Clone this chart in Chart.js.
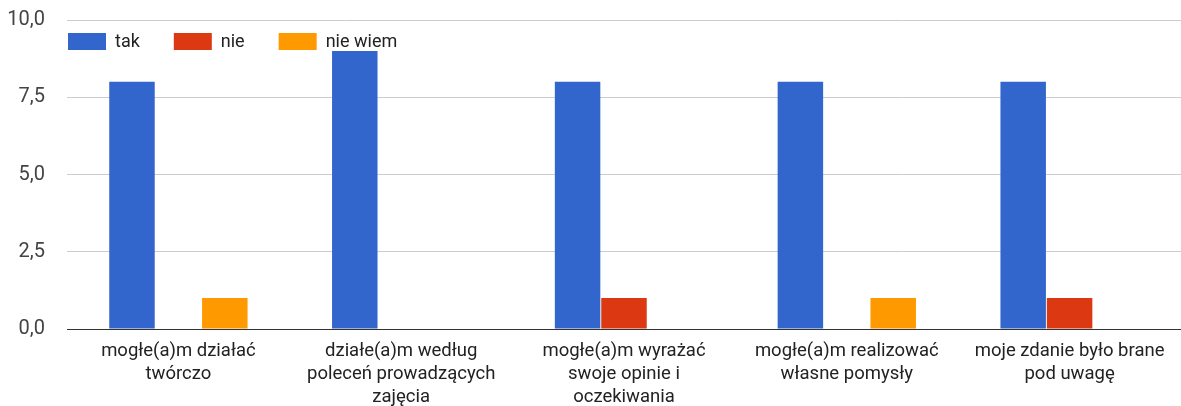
<!DOCTYPE html>
<html>
<head>
<meta charset="utf-8">
<script src="https://cdn.jsdelivr.net/npm/chart.js@4"></script>
<style>
  body { margin: 0; background: #fff; }
</style>
</head>
<body>
<canvas id="myChart" width="1181" height="406"></canvas>
<script>
let categories = [
    ["mogłe(a)m działać", "twórczo"],
    ["działe(a)m według", "poleceń prowadzących", "zajęcia"],
    ["mogłe(a)m wyrażać", "swoje opinie i", "oczekiwania"],
    ["mogłe(a)m realizować", "własne pomysły"],
    ["moje zdanie było brane", "pod uwagę"]
];
let takValues = [8, 9, 8, 8, 8];
let nieValues = [0, 0, 1, 0, 1];
let nieWiemValues = [1, 0, 0, 1, 0];
let yTicks = [0, 2.5, 5, 7.5, 10];

let fontFamily = "Roboto, 'Liberation Sans', Arial, sans-serif";
Chart.defaults.font.family = fontFamily;

// legend drawn inside the plot area, in one row at the top
let innerLegend = {
    id: 'innerLegend',
    afterDatasetsDraw(chart) {
        let c = chart.ctx;
        let x = chart.chartArea.left + 1;
        let y = chart.chartArea.top + 13;
        c.save();
        c.font = '18px ' + fontFamily;
        c.textBaseline = 'middle';
        chart.data.datasets.forEach(ds => {
            c.fillStyle = ds.backgroundColor;
            c.fillRect(x, y, 38, 17);
            c.fillStyle = '#222';
            c.fillText(ds.label, x + 47, y + 9);
            x += 47 + c.measureText(ds.label).width + 34;
        });
        c.restore();
    }
};

let ctx = document.getElementById('myChart').getContext('2d');
let myChart = new Chart(ctx, {
    type: 'bar',
    data: {
        labels: categories,
        datasets: [{
            label: 'tak',
            data: takValues,
            backgroundColor: '#3366cc'
        }, {
            label: 'nie',
            data: nieValues,
            backgroundColor: '#dc3912'
        }, {
            label: 'nie wiem',
            data: nieWiemValues,
            backgroundColor: '#ff9900'
        }]
    },
    options: {
        responsive: false,
        animation: false,
        layout: {
            padding: { top: 20, right: -6, left: 7, bottom: 0 }
        },
        datasets: {
            bar: {
                categoryPercentage: 0.625,
                barPercentage: 0.98
            }
        },
        plugins: {
            tooltip: { enabled: false },
            legend: { display: false }
        },
        scales: {
            x: {
                grid: { display: false },
                border: { color: '#333' },
                afterFit: (axis) => {
                    axis.height = 77;
                    axis.paddingTop = 0;
                    axis.paddingBottom = 0;
                    axis.paddingLeft = 0;
                    axis.paddingRight = 0;
                },
                ticks: {
                    color: '#222',
                    font: { size: 18.5, lineHeight: 1.25 },
                    maxRotation: 0,
                    autoSkip: false,
                    padding: 3
                }
            },
            y: {
                min: 0,
                max: 10,
                afterBuildTicks: (axis) => {
                    axis.ticks = yTicks.map(v => ({ value: v }));
                },
                afterFit: (axis) => {
                    axis.width = 60;
                    axis.paddingTop = 0;
                    axis.paddingBottom = 0;
                },
                border: { display: false },
                grid: {
                    color: (c) => c.tick && c.tick.value === 0 ? '#333' : '#ccc',
                    drawTicks: false
                },
                ticks: {
                    color: '#444',
                    font: { size: 20 },
                    padding: 22,
                    callback: (v) => v.toFixed(1).replace('.', ',')
                }
            }
        }
    },
    plugins: [innerLegend]
});
</script>
</body>
</html>
